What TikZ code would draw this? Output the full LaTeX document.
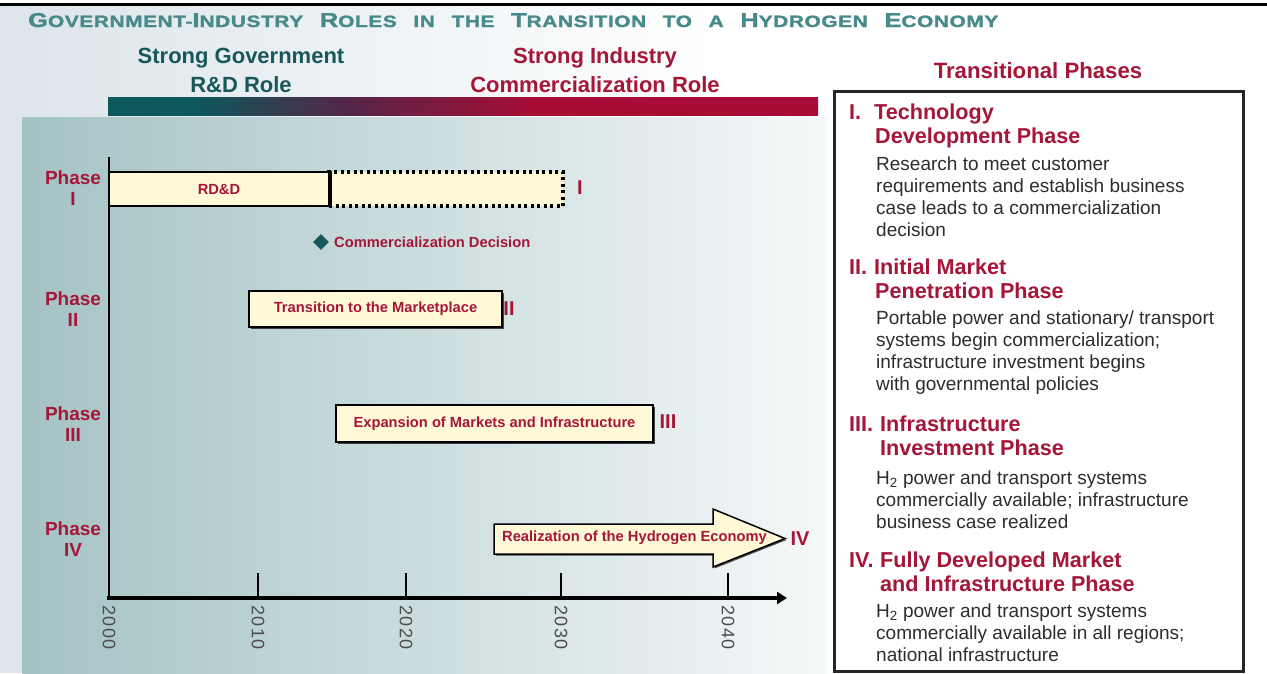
\documentclass[tikz,border=0pt]{standalone}
\usepackage{fontspec}
\setmainfont{Liberation Sans}
\usepackage{graphicx}
\usetikzlibrary{arrows.meta,shapes.geometric,shadows}
\definecolor{crim}{RGB}{165,22,56}
\definecolor{tealdk}{RGB}{24,88,90}
\definecolor{titleteal}{RGB}{72,138,138}
\definecolor{cream}{RGB}{255,249,215}
\definecolor{chartL}{RGB}{164,194,196}
\definecolor{chartR}{RGB}{245,248,249}
\definecolor{bgL}{RGB}{220,229,234}
\definecolor{barteal}{RGB}{12,88,90}
\definecolor{barplum}{RGB}{85,38,72}
\definecolor{barred}{RGB}{168,12,52}
\definecolor{bodygray}{RGB}{45,45,45}
\pgfdeclarehorizontalshading{rolebar}{100bp}{color(0bp)=(barteal); color(31bp)=(barteal); color(42bp)=(barplum); color(55bp)=(barred); color(100bp)=(barred)}
\newcommand{\BL}[1]{{\fontsize{19}{19}\selectfont #1}}
\newcommand{\tsep}{\hspace{0.8em}}
\begin{document}
\begin{tikzpicture}[x=1pt,y=-1pt,
  hdr/.style={font=\fontsize{22}{29}\selectfont\bfseries, align=center, inner sep=0},
  phaselbl/.style={font=\fontsize{19}{21}\selectfont\bfseries, text=crim, align=center, inner sep=0},
  roman/.style={font=\fontsize{20}{20}\selectfont\bfseries, text=crim, inner sep=0},
  barbox/.style={draw=black, line width=1.5pt, fill=cream, text=crim, font=\fontsize{14.7}{15}\selectfont\bfseries, inner sep=0},
  shadowbox/.style={barbox, drop shadow={shadow xshift=2pt, shadow yshift=-2pt, fill=black!75, opacity=1}},
  year/.style={rotate=-90, anchor=west, font=\fontsize{18}{18}\selectfont\addfontfeatures{LetterSpace=8}, text=black!70, inner sep=0},
  phhead/.style={anchor=base west, inner sep=0, text=crim, font=\fontsize{21.6}{24}\selectfont\bfseries},
  phbody/.style={anchor=base west, inner sep=0, text=bodygray, font=\fontsize{19}{22}\selectfont},
  tick/.style={line width=2.5pt},
]
\useasboundingbox (0,0) rectangle (1267,673);
% backgrounds
\fill[white] (0,0) rectangle (1267,673);
\shade[left color=bgL, right color=white] (0,6) rectangle (720,117);
\fill[bgL] (0,117) rectangle (22,673);
\shade[left color=chartL, right color=chartR] (22,117) rectangle (826,673);
\draw[line width=3pt] (0,4.5) -- (1267,4.5);
% title
\node[anchor=base west, inner sep=0, text=titleteal, font=\fontsize{15.5}{16}\selectfont\bfseries] (title) at (28,27)
  {\resizebox{970pt}{14pt}{\addfontfeatures{LetterSpace=3,FakeBold=1.5}\BL{G}OVERNMENT-\BL{I}NDUSTRY\tsep\BL{R}OLES\tsep IN\tsep THE\tsep\BL{T}RANSITION\tsep TO\tsep A\tsep\BL{H}YDROGEN\tsep\BL{E}CONOMY}};
% role headers
\node[hdr, text=tealdk] (gov) at (241,70.5) {Strong Government\\R\&D Role};
\node[hdr, text=crim] (ind) at (595,70.5) {Strong Industry\\Commercialization Role};
\shade[shading=rolebar] (108,97) rectangle (818,115);
% axes
\coordinate (o) at (109,598);
\coordinate (ytop) at (109,157);
\coordinate (xend) at (787,598);
\draw[line width=2pt] (ytop) -- (o);
\draw[line width=4pt, -{Triangle[length=10pt,width=12pt]}] (107,598) -- (xend);
\draw[tick] (258,573) -- (258,598);
\draw[tick] (406,573) -- (406,598);
\draw[tick] (561,573) -- (561,598);
\draw[tick] (728,573) -- (728,598);
\node[year] (y0) at (109,605) {2000};
\node[year] (y1) at (258,605) {2010};
\node[year] (y2) at (406,605) {2020};
\node[year] (y3) at (561,605) {2030};
\node[year] (y4) at (728,605) {2040};
% phase labels
\node[phaselbl] (ph1) at (73,188) {Phase\\I};
\node[phaselbl] (ph2) at (73,309) {Phase\\II};
\node[phaselbl] (ph3) at (73,424) {Phase\\III};
\node[phaselbl] (ph4) at (73,539) {Phase\\IV};
% phase I
\node[barbox, draw=black, line width=3.5pt, dash pattern=on 3pt off 3.5pt, minimum width=234pt, minimum height=34pt] (p1dot) at (446,189) {};
\node[barbox, minimum width=220pt, minimum height=34pt] (rdd) at (219,189) {RD\&D};
\draw[line width=4pt] (rdd.north east) -- (rdd.south east);
\node[roman] (r1) at (580,188) {I};
\node[diamond, fill=tealdk, minimum size=16pt, inner sep=0] (cd) at (321,242) {};
\node[anchor=west, inner sep=0, text=crim, font=\fontsize{14.7}{15}\selectfont\bfseries] (cdl) at (334,242) {Commercialization Decision};
% phase II
\node[shadowbox, minimum width=253pt, minimum height=36pt] (tm) at (375.5,309) {Transition to the Marketplace};
\node[roman] (r2) at (509,309) {II};
% phase III
\node[shadowbox, minimum width=317pt, minimum height=37pt] (em) at (494.5,423.5) {Expansion of Markets and Infrastructure};
\node[roman] (r3) at (668,422) {III};
% phase IV arrow
\draw[line width=1.5pt, fill=cream, drop shadow={shadow xshift=1.5pt, shadow yshift=-1.5pt, fill=black!70, opacity=1}]
  (494,524) -- (713,524) -- (713,509) -- (785,538.5) -- (713,567) -- (713,554) -- (494,554) -- cycle;
\node[inner sep=0, text=crim, font=\fontsize{14.7}{15}\selectfont\bfseries] (rh) at (634.5,538) {Realization of the Hydrogen Economy};
\node[roman] (r4) at (800,539) {IV};
% right panel
\node[inner sep=0, text=crim, font=\fontsize{22.2}{24}\selectfont\bfseries] (tp) at (1038,71) {Transitional Phases};
\draw[line width=3pt, black!85] (834,91) rectangle (1243,671);
\node[phhead] (h1a) at (849,119) {\makebox[25pt][l]{I.}Technology};
\node[phhead] (h1b) at (849,143) {\hspace*{26pt}Development Phase};
\node[phbody] (b1) at (876,170) {\parbox[t]{360pt}{Research to meet customer\\requirements and establish business\\case leads to a commercialization\\decision}};
\node[phhead] (h2a) at (849,274) {\makebox[25pt][l]{II.}Initial Market};
\node[phhead] (h2b) at (849,298) {\hspace*{26pt}Penetration Phase};
\node[phbody] (b2) at (876,324) {\parbox[t]{360pt}{Portable power and stationary/ transport\\systems begin commercialization;\\infrastructure investment begins\\with governmental policies}};
\node[phhead] (h3a) at (849,431) {\makebox[31pt][l]{III.}Infrastructure};
\node[phhead] (h3b) at (849,455) {\hspace*{31pt}Investment Phase};
\node[phbody] (b3) at (876,484) {\parbox[t]{360pt}{H\textsubscript{2} power and transport systems\\commercially available; infrastructure\\business case realized}};
\node[phhead] (h4a) at (849,567) {\makebox[31pt][l]{IV.}Fully Developed Market};
\node[phhead] (h4b) at (849,591) {\hspace*{31pt}and Infrastructure Phase};
\node[phbody] (b4) at (876,617) {\parbox[t]{360pt}{H\textsubscript{2} power and transport systems\\commercially available in all regions;\\national infrastructure}};
\end{tikzpicture}
\end{document}
